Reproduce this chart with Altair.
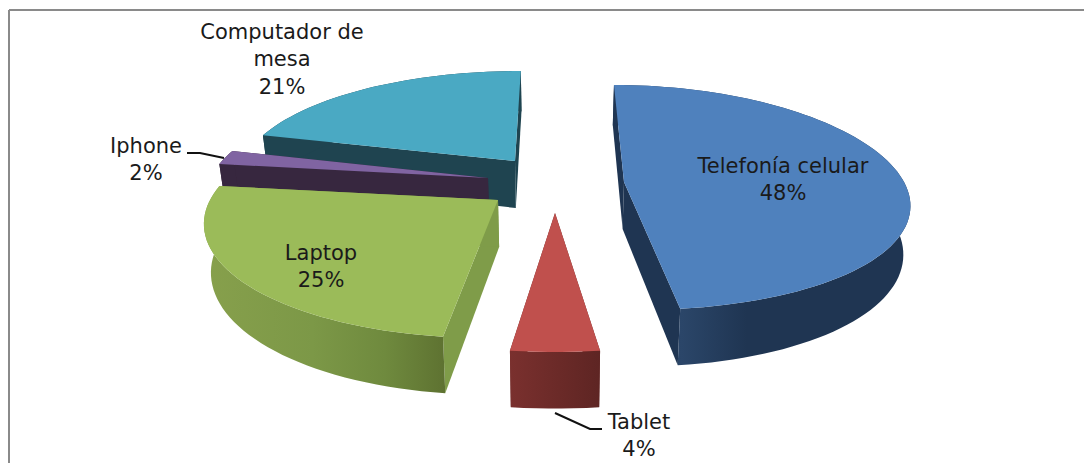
import math
import altair as alt

# ---- data ----
categories = ["Telefonía celular", "Tablet", "Laptop", "Iphone", "Computador de mesa"]
shares = [48, 4, 25, 2, 21]
label_lines = [["Telefonía celular", "48%"], ["Tablet", "4%"], ["Laptop", "25%"],
               ["Iphone", "2%"], ["Computador de", "mesa", "21%"]]

# ---- styling / layout of the exploded perspective pie ----
W, H = 1076, 455
VX = 555          # vanishing x
R_TILT, DEPTH, CONVERGE = 0.17, 47, 0.02
slice_pos = {     # apex x, apex y, radius, far extent, near extent
    "Telefonía celular": (624, 182, 280, 97, 128),
    "Tablet": (555, 213, 299, 97, 139),
    "Laptop": (498, 200, 288, 97, 138),
    "Iphone": (488, 178, 278, 97, 137),
    "Computador de mesa": (515, 161, 273, 90, 137),
}
draw_order = ["Computador de mesa", "Iphone", "Laptop", "Telefonía celular", "Tablet"]
top_color = {"Telefonía celular": "#4F81BD", "Tablet": "#C0504D", "Laptop": "#9BBB59",
             "Iphone": "#8064A2", "Computador de mesa": "#4AA9C3"}
wall_color = {"Telefonía celular": "#1F3552", "Tablet": "#6B2A28", "Laptop": "#7F9C49",
              "Iphone": "#37273F", "Computador de mesa": "#1F4450"}


def grad(stops):
    return alt.Gradient(gradient="linear", x1=0, x2=1, y1=0, y2=0,
                        stops=[alt.GradientStop(offset=o, color=c) for o, c in stops])


rim_fill = {
    "Telefonía celular": grad([(0, "#1F3552"), (0.23, "#2B4669"), (0.45, "#1F3552"), (1, "#1F3552")]),
    "Tablet": grad([(0, "#7A302E"), (1, "#5E2523")]),
    "Laptop": grad([(0, "#87A04C"), (0.45, "#7C9847"), (0.75, "#6F8A3E"), (1, "#5E7231")]),
    "Iphone": "#37273F",
    "Computador de mesa": "#1F4450",
}
label_pos = {
    "Telefonía celular": (783, 167), "Tablet": (639, 423), "Laptop": (321, 254),
    "Iphone": (146, 147), "Computador de mesa": (282, 33),
}
LINE_H = 27.3
leaders = [("Iphone", [(187, 153), (200, 153), (224, 158)]),
           ("Tablet", [(555, 413), (590, 429), (602, 429)])]


def project(name, deg, down=0.0, at_apex=False):
    cx, cy, rad, far, near = slice_pos[name]
    t = math.radians(deg)
    s = 0.0 if at_apex else 1.0
    w = 1 + s * R_TILT * math.cos(t)
    ry = (near - far) / (near + far)
    ys_ = far * (1 + ry) / ry
    wy = 1 + s * ry * math.cos(t)
    x = VX + ((cx - VX) + s * rad * math.sin(t)) / w
    y = cy + ys_ * (1 / wy - 1) + down / w
    if down:
        x = VX + (x - VX) * (1 - CONVERGE)
    return [round(x, 2), round(y, 2)]


def spans():
    out, acc = {}, 0.0
    total = sum(shares)
    for c, v in zip(categories, shares):
        out[c] = (acc / total * 360, (acc + v) / total * 360)
        acc += v
    return out


ang = spans()


def poly(coords, fill):
    ring = coords + [coords[0]]
    feat = {"type": "Feature", "properties": {}, "geometry": {"type": "Polygon", "coordinates": [ring]}}
    return alt.Chart(alt.Data(values=[feat])).mark_geoshape(fill=fill, strokeWidth=0, strokeOpacity=0).project(
        type="identity", scale=1, translate=[-8, -8])


layers = []
for name in draw_order:
    a0, a1 = ang[name]
    n = max(6, int((a1 - a0) / 2))
    degs = [a0 + (a1 - a0) * i / n for i in range(n + 1)]
    rim_top = [project(name, d) for d in degs]
    rim_bot = [project(name, d, DEPTH) for d in degs]
    apex = project(name, 0, at_apex=True)
    apex_b = project(name, 0, DEPTH, at_apex=True)
    layers.append(poly([apex, rim_top[0], rim_bot[0], apex_b], wall_color[name]))
    layers.append(poly([apex, rim_top[-1], rim_bot[-1], apex_b], wall_color[name]))
    layers.append(poly(rim_top + rim_bot[::-1], rim_fill[name]))
    layers.append(poly([apex] + rim_top, top_color[name]))

xs = alt.Scale(domain=[8, 8 + W], range=[0, W])
ys = alt.Scale(domain=[8, 8 + H], range=[0, H])

# frame
frame_rows = [{"x": 9, "x2": 9, "y": 10, "y2": 8 + H}, {"x": 9, "x2": 8 + W, "y": 10, "y2": 10}]
frame = alt.Chart(alt.Data(values=frame_rows)).mark_rule(color="#8A8A8A", strokeWidth=2).encode(
    x=alt.X("x:Q", scale=xs, axis=None), x2="x2:Q",
    y=alt.Y("y:Q", scale=ys, axis=None), y2="y2:Q")
layers.insert(0, frame)

# leader lines
for name, pts in leaders:
    rows = [{"x": p[0], "y": p[1], "i": i} for i, p in enumerate(pts)]
    layers.append(alt.Chart(alt.Data(values=rows)).mark_line(color="#111111", strokeWidth=2).encode(
        x=alt.X("x:Q", scale=xs, axis=None), y=alt.Y("y:Q", scale=ys, axis=None), order="i:Q"))

# labels
text_rows = []
for c, lines in zip(categories, label_lines):
    lx, ly = label_pos[c]
    for i, t in enumerate(lines):
        text_rows.append({"x": lx, "y": ly + i * LINE_H, "t": t})
layers.append(alt.Chart(alt.Data(values=text_rows)).mark_text(
    font="DejaVu Sans", fontSize=21, color="#1A1A1A", align="center", baseline="middle").encode(
    x=alt.X("x:Q", scale=xs, axis=None), y=alt.Y("y:Q", scale=ys, axis=None), text="t:N"))

chart = alt.layer(*layers).properties(
    width=W, height=H, padding=0, background="white",
    autosize=alt.AutoSizeParams(type="none")
).configure_view(stroke=None)

chart.save("out.html", embed_options={"renderer": "svg", "actions": False})
